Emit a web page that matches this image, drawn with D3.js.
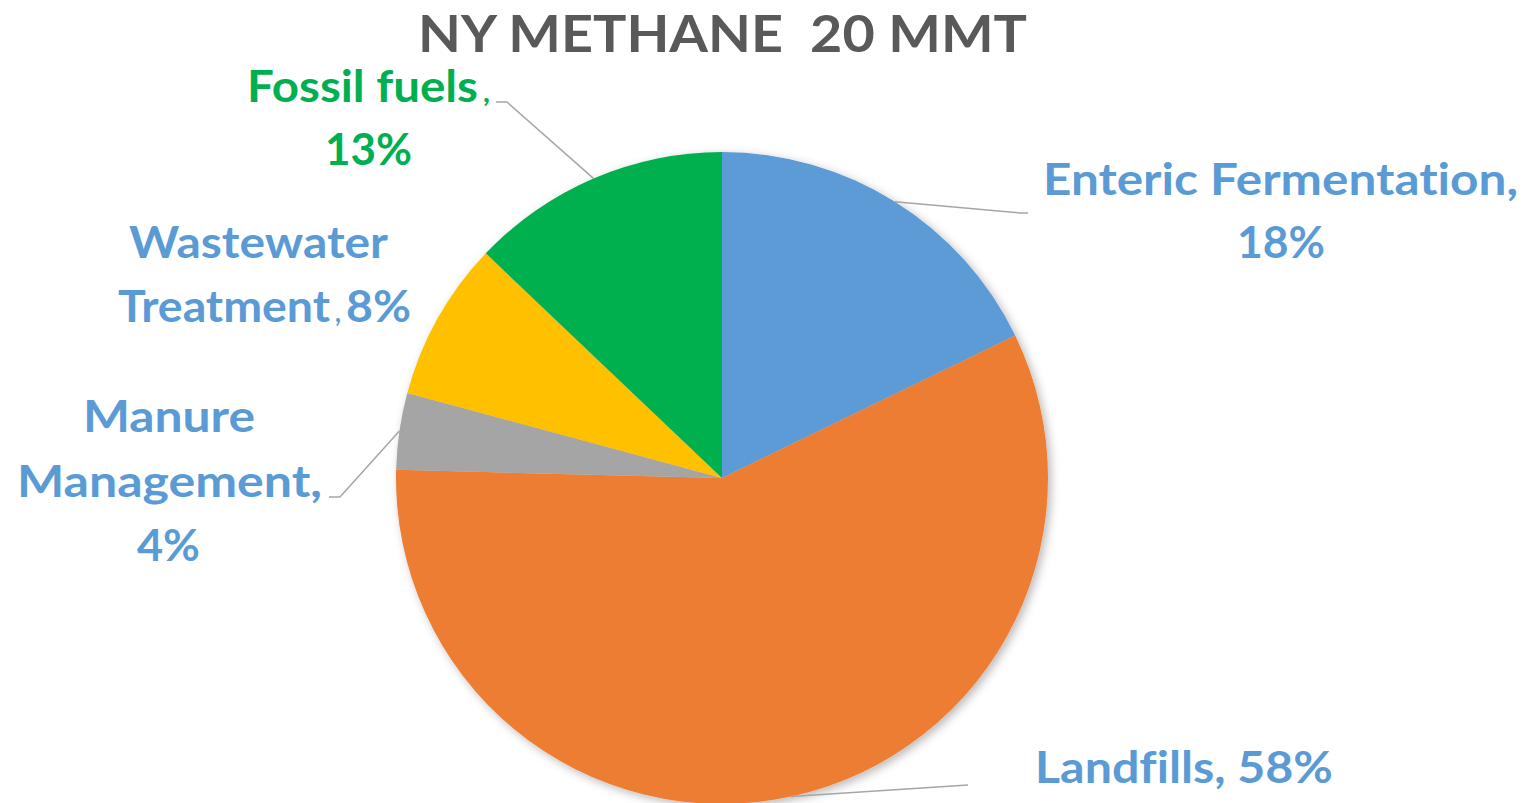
<!DOCTYPE html>
<html>
<head>
<meta charset="utf-8">
<script src="https://cdn.jsdelivr.net/npm/d3@7/dist/d3.min.js"></script>
<style>
  html, body { margin: 0; padding: 0; background: #ffffff; }
  svg { display: block; }
  text { font-family: Lato, "Open Sans", sans-serif; font-weight: 700; font-variant-ligatures: none; font-feature-settings: "liga" 0, "dlig" 0; }
</style>
</head>
<body>
<svg id="chart" width="1531" height="803"></svg>
<script>
// ---- data ----
const title = "NY METHANE  20 MMT";
const categories = ["Enteric Fermentation", "Landfills", "Manure Management", "Wastewater Treatment", "Fossil fuels"];
const values = [17.8, 57.6, 3.8, 7.9, 12.9];          // share of methane
const percentLabels = ["18%", "58%", "4%", "8%", "13%"];
const colors = ["#5B9BD5", "#ED7D31", "#A5A5A5", "#FFC000", "#00B050"];
const labelColors = ["#5B9BD5", "#5B9BD5", "#5B9BD5", "#5B9BD5", "#00B050"];

// ---- layout ----
const W = 1531, H = 803;
const cx = 722, cy = 478, R = 326;
const svg = d3.select("#chart");

const defs = svg.append("defs");
const f = defs.append("filter").attr("id", "shadow")
  .attr("x", "-10%").attr("y", "-10%").attr("width", "120%").attr("height", "120%");
f.append("feDropShadow").attr("dx", 3).attr("dy", 3).attr("stdDeviation", 5)
  .attr("flood-color", "#000").attr("flood-opacity", 0.28);

// title
svg.append("text").attr("x", 722.5).attr("y", 52)
  .attr("text-anchor", "middle").attr("fill", "#595959")
  .style("white-space", "pre")
  .attr("font-size", 52).attr("textLength", 609).attr("lengthAdjust", "spacingAndGlyphs")
  .text(title);

const pie = d3.pie().sort(null).value(d => d)(values);
const arc = d3.arc().innerRadius(0).outerRadius(R);

const g = svg.append("g").attr("transform", `translate(${cx},${cy})`);
const slices = g.append("g").attr("filter", "url(#shadow)");
slices.selectAll("path").data(pie).join("path")
  .attr("d", arc)
  .attr("fill", (d, i) => colors[i]);

// point on the rim at slice middle angle
function rim(i) {
  const a = (pie[i].startAngle + pie[i].endAngle) / 2;
  return [cx + R * Math.sin(a), cy - R * Math.cos(a)];
}

// leader lines (gray)
const leaders = [
  { i: 0, pts: [[1020, 213], [1028, 213]] },
  { i: 1, pts: [[968, 785]] },
  { i: 2, pts: [[340, 497], [329, 497]] },
  { i: 4, pts: [[507, 102], [496, 102]] }
];
const line = d3.line();
leaders.forEach(l => {
  svg.append("path")
    .attr("d", line([rim(l.i), ...l.pts]))
    .attr("fill", "none").attr("stroke", "#A6A6A6").attr("stroke-width", 1.5);
});

// labels: lines of text with measured extents
const FS = 44.5;
function txt(s, x0, x1, y, color, size) {
  svg.append("text")
    .attr("x", (x0 + x1) / 2).attr("y", y)
    .attr("text-anchor", "middle")
    .attr("fill", color)
    .attr("font-size", size || FS)
    .attr("textLength", x1 - x0).attr("lengthAdjust", "spacingAndGlyphs")
    .text(s);
}
// Enteric Fermentation
txt(categories[0] + ",", 1043, 1518, 195, labelColors[0]);
txt(percentLabels[0], 1237, 1325, 258, labelColors[0]);
// Landfills
txt("Landfills, " + percentLabels[1], 1035, 1333, 783, labelColors[1]);
// Manure Management
txt("Manure", 83, 255, 432, labelColors[2]);
txt("Management,", 17, 322, 497, labelColors[2]);
txt(percentLabels[2], 137, 200, 561, labelColors[2]);
// Wastewater Treatment
txt("Wastewater", 129, 388, 258, labelColors[3]);
txt("Treatment", 118, 330, 322, labelColors[3]);
txt(",", 335, 341, 322, labelColors[3], 28);
txt(percentLabels[3], 346, 411, 322, labelColors[3]);
// Fossil fuels
txt(categories[4], 247, 478, 102, labelColors[4]);
txt(",", 483, 490, 102, labelColors[4], 28);
txt(percentLabels[4], 325, 412, 165, labelColors[4]);
</script>
</body>
</html>
